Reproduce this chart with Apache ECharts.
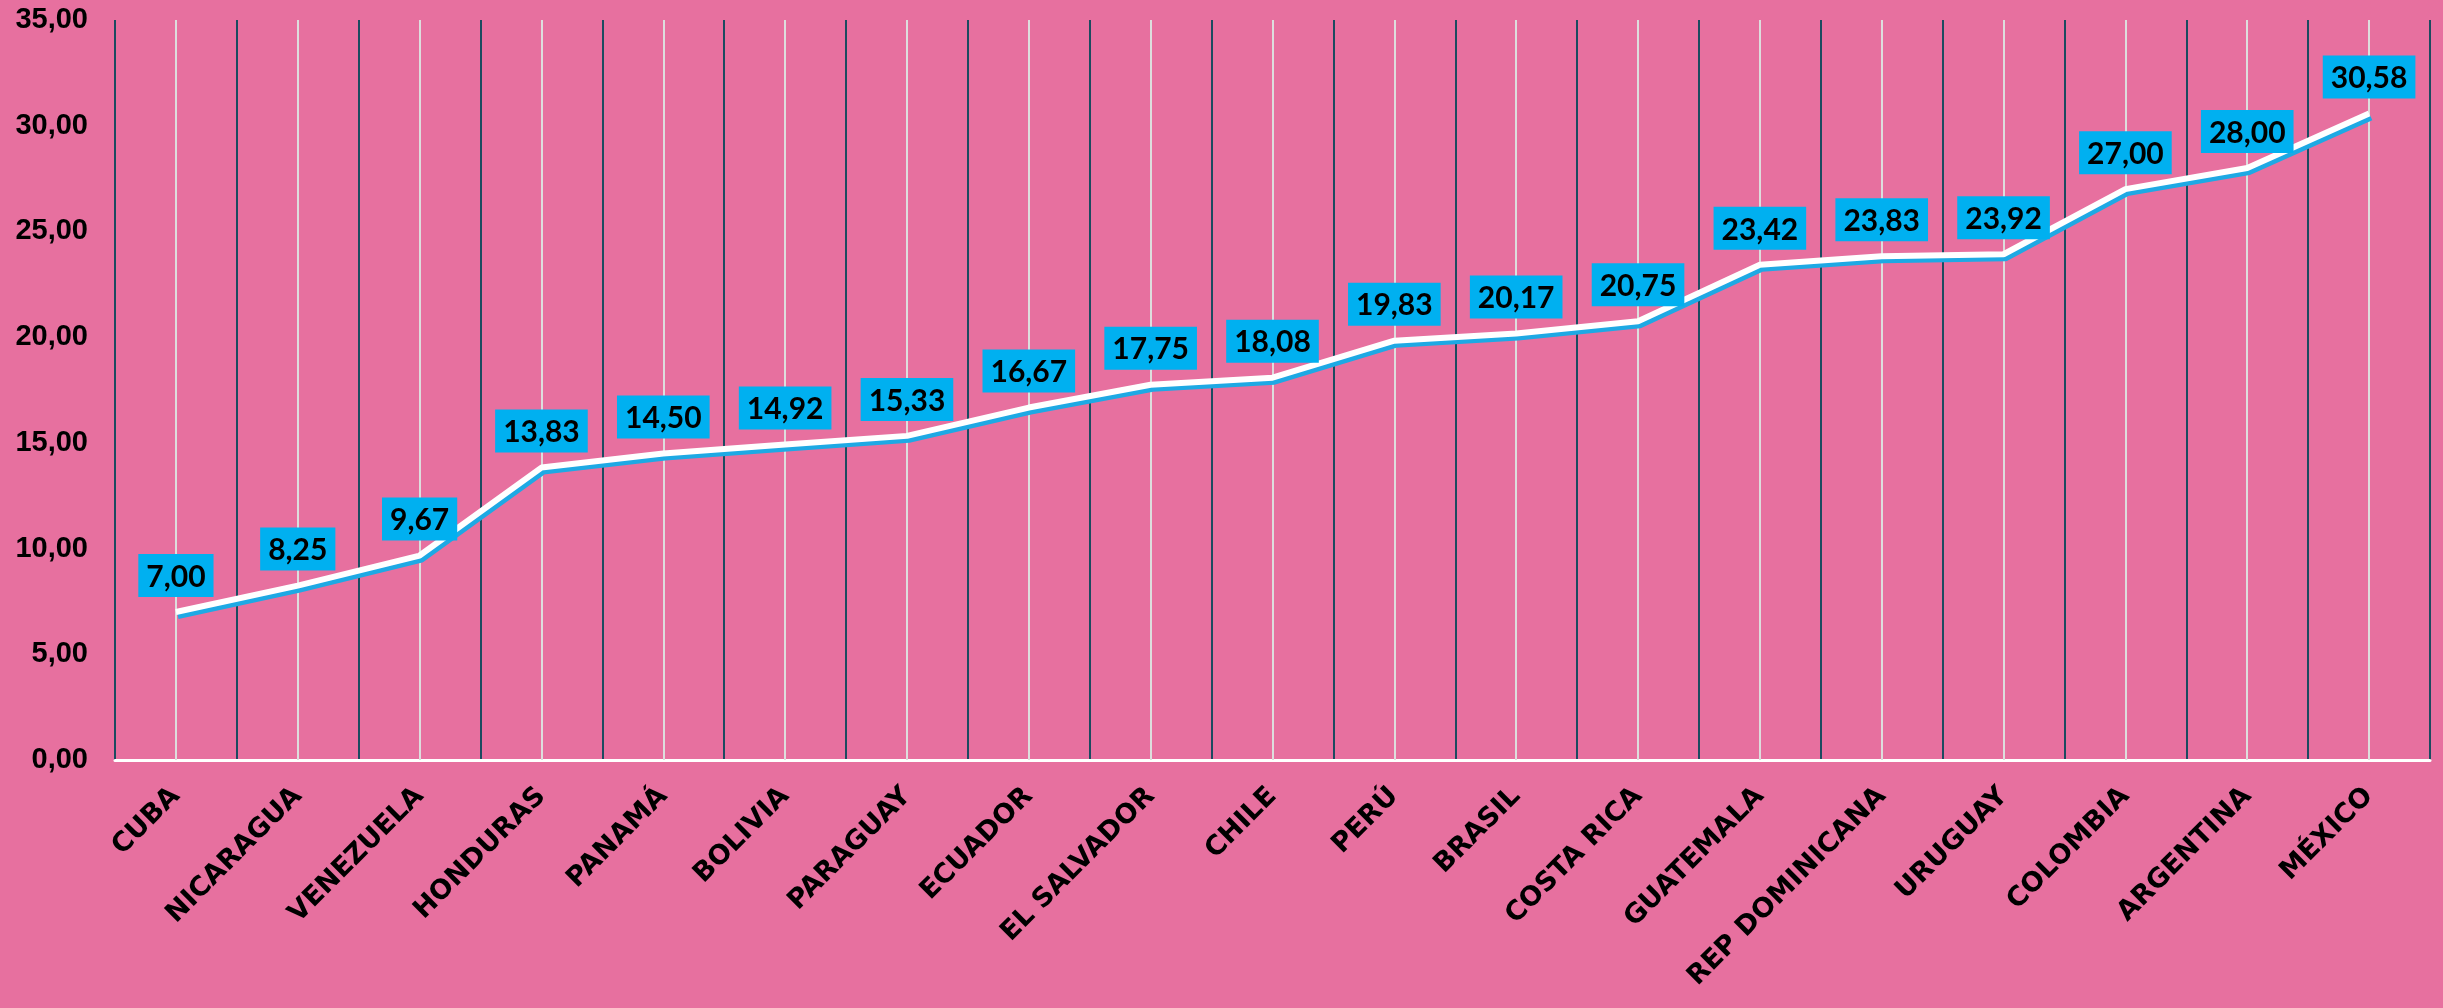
<!DOCTYPE html>
<html>
<head>
<meta charset="utf-8">
<script src="https://cdn.jsdelivr.net/npm/echarts@6/dist/echarts.min.js"></script>
<style>
html,body{margin:0;padding:0;background:#E7709F;}
#chart{width:2443px;height:1008px;}
</style>
</head>
<body>
<div id="chart"></div>
<script>
var categories = ['CUBA','NICARAGUA','VENEZUELA','HONDURAS','PANAMÁ','BOLIVIA','PARAGUAY','ECUADOR','EL SALVADOR','CHILE','PERÚ','BRASIL','COSTA RICA','GUATEMALA','REP DOMINICANA','URUGUAY','COLOMBIA','ARGENTINA','MÉXICO'];
var values = [7.00, 8.25, 9.67, 13.83, 14.50, 14.92, 15.33, 16.67, 17.75, 18.08, 19.83, 20.17, 20.75, 23.42, 23.83, 23.92, 27.00, 28.00, 30.58];
var yMin = 0, yMax = 35, yStep = 5;

function fmt(v){ return Number(v).toFixed(2).replace('.', ','); }

var chart = echarts.init(document.getElementById('chart'));
chart.setOption({
  backgroundColor: '#E7709F',
  animation: false,
  grid: {left: 115, right: 13, top: 20, bottom: 248, containLabel: false},
  xAxis: {
    type: 'category',
    data: categories,
    boundaryGap: true,
    axisLine: {show: true, lineStyle: {color: '#FFFFFF', width: 3}},
    axisTick: {show: false},
    splitLine: {show: true, interval: 0, lineStyle: {color: '#1B4B60', width: 2}},
    axisLabel: {
      interval: 0, rotate: 45, margin: 32,
      color: '#000000', fontFamily: 'DejaVu Sans', fontWeight: 'bold', fontSize: 27
    },
    z: 4
  },
  yAxis: {
    type: 'value', min: yMin, max: yMax, interval: yStep,
    axisLine: {show: false}, axisTick: {show: false},
    splitLine: {show: false},
    axisLabel: {
      margin: 27, color: '#000000', fontFamily: 'Liberation Sans', fontWeight: 'bold', fontSize: 29,
      formatter: function(v){ return fmt(v); }
    }
  },
  series: [
    {
      type: 'line', data: [], z: 1, silent: true,
      markLine: {
        silent: true, symbol: 'none', label: {show: false},
        lineStyle: {color: '#DDDDDD', width: 2, type: 'solid'},
        data: categories.map(function(c){ return {xAxis: c}; })
      }
    },
    {
      type: 'line', data: values, z: 5,
      symbol: 'circle', symbolSize: 2, showSymbol: true,
      itemStyle: {color: 'rgba(255,255,255,0)', borderWidth: 0},
      lineStyle: {color: '#FFFFFF', width: 6, shadowColor: '#1EA9E4', shadowBlur: 0, shadowOffsetX: 2, shadowOffsetY: 4},
      label: {
        show: true, position: 'top', distance: 14,
        formatter: function(p){ return fmt(p.value); },
        backgroundColor: '#00B0F0', color: '#000000',
        fontFamily: 'Lato', fontWeight: 'bold', fontSize: 30,
        padding: [8, 8, 5, 8]
      },
      labelLayout: {hideOverlap: false}
    }
  ]
});
</script>
</body>
</html>
